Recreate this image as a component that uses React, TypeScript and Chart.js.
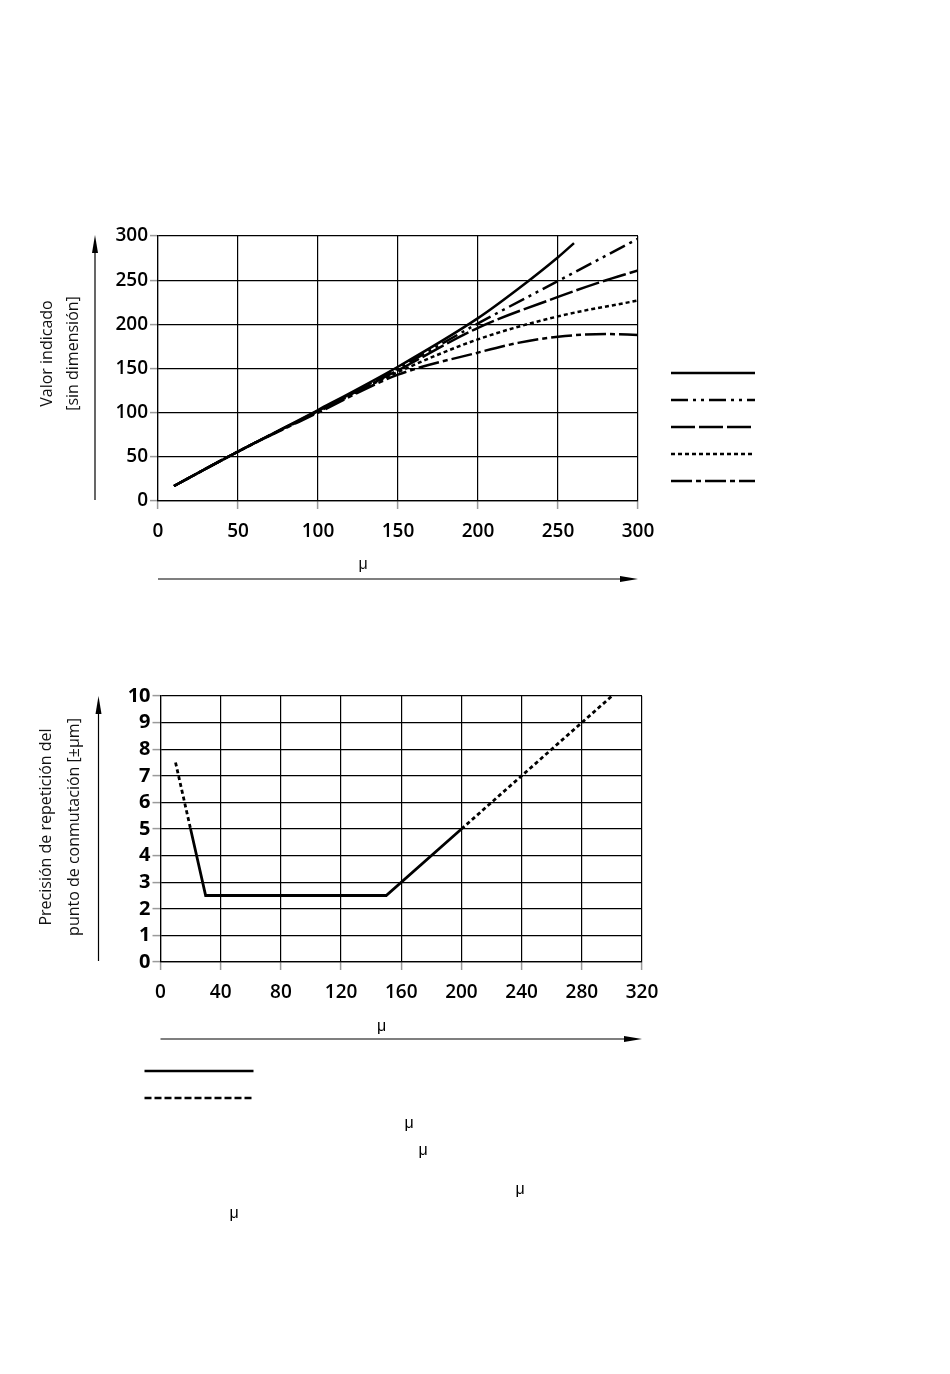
import React, { useEffect, useRef } from 'react';
import { Chart, ChartConfiguration, Plugin, registerables } from 'chart.js';

Chart.register(...registerables);

// ---- upper chart: indicated value over distance ----
const distanceTicks = [0, 50, 100, 150, 200, 250, 300];
const valueTicks = [0, 50, 100, 150, 200, 250, 300];

const solidDist = [10, 50, 100, 150, 200, 225, 250, 260];
const solidValue = [17, 56, 103, 152, 207, 240, 276, 292];
const dashDotDotDist = [10, 50, 100, 150, 200, 250, 300];
const dashDotDotValue = [17, 56, 102, 150, 201, 249, 297];
const longDashDist = [10, 50, 100, 150, 200, 250, 275, 300];
const longDashValue = [17, 56, 102, 148, 196, 231, 247, 261];
const dottedDist = [10, 50, 100, 150, 200, 250, 300];
const dottedValue = [17, 56, 101, 146, 183, 209, 227];
const dashDotDist = [10, 50, 100, 150, 200, 225, 250, 280, 300];
const dashDotValue = [17, 56, 100, 143, 168, 179, 186, 189, 188];

// ---- lower chart: switching point repeatability ----
const gapTicks = [0, 40, 80, 120, 160, 200, 240, 280, 320];
const precisionTicks = [0, 1, 2, 3, 4, 5, 6, 7, 8, 9, 10];

const leftDottedGap = [10, 20];
const leftDottedPrecision = [7.5, 5];
const solidGap = [20, 30, 150, 200];
const solidPrecision = [5, 2.5, 2.5, 5];
const rightDottedGap = [200, 300];
const rightDottedPrecision = [5, 10];

// line styles of the upper chart, in legend order
const upperDashes: number[][] = [[], [17, 5, 3, 5, 3, 5], [24, 4], [4, 3], [21, 4, 5, 4]];

const W = 950;
const TOP1 = 200;
const H1 = 420;
const TOP2 = 660;
const H2 = 600;

const tickFont = { family: "'Open Sans', sans-serif", size: 19, weight: 600 as const };
const tickFontBold = { family: "'Open Sans', sans-serif", size: 20, weight: 700 as const };
const titleFont = "400 16px 'Open Sans', sans-serif";
const muFont = "400 16px 'Liberation Sans', Arial, sans-serif";

const toPoints = (xs: number[], ys: number[]) => xs.map((x, i) => ({ x, y: ys[i] }));

function arrowUp(ctx: CanvasRenderingContext2D, x: number, y0: number, y1: number) {
  ctx.beginPath();
  ctx.moveTo(x, y0);
  ctx.lineTo(x, y1 + 10);
  ctx.stroke();
  ctx.beginPath();
  ctx.moveTo(x, y1);
  ctx.lineTo(x - 3, y1 + 18);
  ctx.lineTo(x + 3, y1 + 18);
  ctx.closePath();
  ctx.fill();
}

function arrowRight(ctx: CanvasRenderingContext2D, x0: number, x1: number, y: number) {
  ctx.beginPath();
  ctx.moveTo(x0, y);
  ctx.lineTo(x1 - 10, y);
  ctx.stroke();
  ctx.beginPath();
  ctx.moveTo(x1, y);
  ctx.lineTo(x1 - 18, y - 3);
  ctx.lineTo(x1 - 18, y + 3);
  ctx.closePath();
  ctx.fill();
}

function rotatedText(ctx: CanvasRenderingContext2D, text: string, x: number, y: number) {
  ctx.save();
  ctx.translate(x, y);
  ctx.rotate(-Math.PI / 2);
  ctx.textAlign = 'center';
  ctx.textBaseline = 'middle';
  ctx.fillText(text, 0, 0);
  ctx.restore();
}

function sampleLine(ctx: CanvasRenderingContext2D, x0: number, x1: number, y: number, dash: number[]) {
  ctx.save();
  ctx.lineWidth = 2.5;
  ctx.setLineDash(dash);
  ctx.beginPath();
  ctx.moveTo(x0, y);
  ctx.lineTo(x1, y);
  ctx.stroke();
  ctx.restore();
}

function axes(xTicks: number[], yTicks: number[], yWidth: number, yFont: any) {
  const grid = { color: '#000', lineWidth: 1.2, tickColor: '#9a9a9a', tickLength: 8, tickWidth: 1.5 };
  const border = { color: '#000', width: 1.2 };
  return {
    x: {
      type: 'linear' as const,
      min: xTicks[0],
      max: xTicks[xTicks.length - 1],
      afterBuildTicks: (s: any) => { s.ticks = xTicks.map((value) => ({ value })); },
      afterFit: (s: any) => { s.height = 40; },
      grid,
      border,
      ticks: { color: '#000', font: tickFont, padding: 11, maxRotation: 0, autoSkip: false },
    },
    y: {
      type: 'linear' as const,
      min: yTicks[0],
      max: yTicks[yTicks.length - 1],
      afterBuildTicks: (s: any) => { s.ticks = yTicks.map((value) => ({ value })); },
      afterFit: (s: any) => { s.width = yWidth; },
      grid,
      border,
      ticks: { color: '#000', font: yFont, padding: 2, autoSkip: false },
    },
  };
}

const upperDecor: Plugin<'line'> = {
  id: 'upperDecor',
  afterDraw(chart) {
    const { ctx, chartArea: a } = chart;
    ctx.save();
    ctx.fillStyle = '#000';
    ctx.strokeStyle = '#000';
    ctx.lineWidth = 1.2;
    arrowUp(ctx, a.left - 63, a.bottom - 1, a.top - 1);
    arrowRight(ctx, a.left, a.right, a.bottom + 78);
    ctx.font = titleFont;
    ctx.fillStyle = '#111';
    const cy = (a.top + a.bottom) / 2 - 15;
    rotatedText(ctx, 'Valor indicado', a.left - 111, cy);
    rotatedText(ctx, '[sin dimensión]', a.left - 85, cy);
    ctx.font = muFont;
    ctx.textAlign = 'center';
    ctx.textBaseline = 'middle';
    ctx.fillText('μ', a.left + 205, a.bottom + 64);
    // legend samples (labels are blank in the source)
    ctx.strokeStyle = '#000';
    upperDashes.forEach((dash, i) => {
      sampleLine(ctx, a.right + 33, a.right + 117, a.top + 137 + i * 27, dash);
    });
    ctx.restore();
  },
};

const footnoteMu: [number, number][] = [[409, 1124], [423, 1151], [520, 1190], [234, 1214]];

const lowerDecor: Plugin<'line'> = {
  id: 'lowerDecor',
  afterDraw(chart) {
    const { ctx, chartArea: a } = chart;
    ctx.save();
    ctx.fillStyle = '#000';
    ctx.strokeStyle = '#000';
    ctx.lineWidth = 1.2;
    arrowUp(ctx, a.left - 62, a.bottom - 1, a.top);
    arrowRight(ctx, a.left, a.right, a.bottom + 77);
    ctx.font = titleFont;
    ctx.fillStyle = '#111';
    const cy = (a.top + a.bottom) / 2 - 2;
    rotatedText(ctx, 'Precisión de repetición del', a.left - 114, cy);
    rotatedText(ctx, 'punto de conmutación [±μm]', a.left - 86, cy);
    ctx.font = muFont;
    ctx.fillStyle = '#000';
    ctx.textAlign = 'center';
    ctx.textBaseline = 'middle';
    ctx.fillText('μ', a.left + 221, a.bottom + 65);
    sampleLine(ctx, a.left - 16, a.left + 93, a.bottom + 109, []);
    sampleLine(ctx, a.left - 16, a.left + 93, a.bottom + 136, [7, 3]);
    // page coordinates -> canvas coordinates
    footnoteMu.forEach(([x, y]) => ctx.fillText('μ', x, y - TOP2));
    ctx.restore();
  },
};

function upperConfig(): ChartConfiguration<'line'> {
  const series = [
    toPoints(solidDist, solidValue),
    toPoints(dashDotDotDist, dashDotDotValue),
    toPoints(longDashDist, longDashValue),
    toPoints(dottedDist, dottedValue),
    toPoints(dashDotDist, dashDotValue),
  ];
  return {
    type: 'line',
    data: {
      datasets: series.map((data, i) => ({
        data,
        borderColor: '#000',
        borderWidth: 2.5,
        borderDash: upperDashes[i],
        pointRadius: 0,
        cubicInterpolationMode: 'monotone' as const,
        fill: false,
      })),
    },
    options: {
      responsive: true,
      maintainAspectRatio: false,
      animation: false,
      layout: { padding: { left: 100, top: 36, right: 312, bottom: 79 } },
      plugins: { legend: { display: false }, tooltip: { enabled: false } },
      scales: axes(distanceTicks, valueTicks, 58, tickFont),
    },
    plugins: [upperDecor],
  };
}

function lowerConfig(): ChartConfiguration<'line'> {
  const base = { borderColor: '#000', borderWidth: 2.8, pointRadius: 0, fill: false, tension: 0 };
  return {
    type: 'line',
    data: {
      datasets: [
        { ...base, data: toPoints(leftDottedGap, leftDottedPrecision), borderDash: [4, 3] },
        { ...base, data: toPoints(solidGap, solidPrecision) },
        { ...base, data: toPoints(rightDottedGap, rightDottedPrecision), borderDash: [4, 3] },
      ],
    },
    options: {
      responsive: true,
      maintainAspectRatio: false,
      animation: false,
      layout: { padding: { left: 100, top: 36, right: 308, bottom: 258 } },
      plugins: { legend: { display: false }, tooltip: { enabled: false } },
      scales: axes(gapTicks, precisionTicks, 60.5, tickFontBold),
    },
    plugins: [lowerDecor],
  };
}

function ChartBox({ top, height, build }: { top: number; height: number; build: () => ChartConfiguration<'line'> }) {
  const canvasRef = useRef<HTMLCanvasElement>(null);

  useEffect(() => {
    if (!canvasRef.current) return;
    const chart = new Chart(canvasRef.current, build());
    return () => chart.destroy();
  }, [build]);

  return (
    <div style={{ position: 'absolute', left: 0, top, width: W, height }}>
      <canvas ref={canvasRef} />
    </div>
  );
}

export default function App() {
  return (
    <div style={{ position: 'absolute', left: 0, top: 0, width: W, height: 1374, background: '#fff' }}>
      <ChartBox top={TOP1} height={H1} build={upperConfig} />
      <ChartBox top={TOP2} height={H2} build={lowerConfig} />
    </div>
  );
}
